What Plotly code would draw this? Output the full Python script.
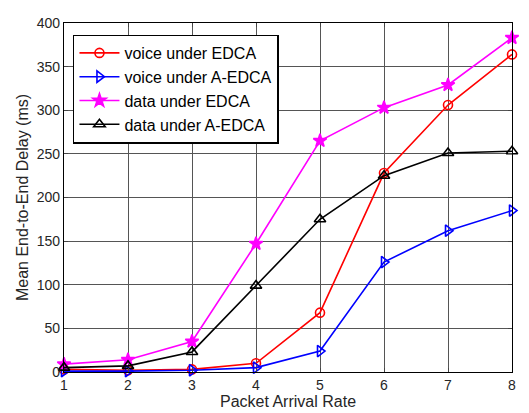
import plotly.graph_objects as go

x = [1, 2, 3, 4, 5, 6, 7, 8]
voice_edca = [3, 2, 3, 10, 68, 228, 306, 364]
voice_aedca = [1, 1, 2, 5, 24, 126, 162, 185]
data_edca = [9, 14, 35, 147, 265, 303, 329, 383]
data_aedca = [5, 7, 23, 99, 175, 225, 251, 253]

names = ["voice under EDCA", "voice under A-EDCA", "data under EDCA", "data under A-EDCA"]
series = [voice_edca, voice_aedca, data_edca, data_aedca]
colors = ["#ff0000", "#0000ff", "#ff00ff", "#000000"]
symbols = ["circle-open", "triangle-right-open", "star", "triangle-up-open"]
sizes = [9, 10, 10, 10]

fig = go.Figure()
for n, s, c, sym, sz in zip(names, series, colors, symbols, sizes):
    fig.add_trace(go.Scatter(
        x=x, y=s, name=n, mode="lines+markers",
        line=dict(color=c, width=1.6),
        marker=dict(symbol=sym, size=sz, color=c, line=dict(color=c, width=1.6)),
        cliponaxis=False,
    ))

# page body has an 8px margin, so the figure is sized to the visible area
fig.update_layout(
    width=521, height=405,
    margin=dict(l=56, r=17, t=7, b=40),
    paper_bgcolor="white", plot_bgcolor="white",
    font=dict(family="Arial, Liberation Sans", size=13, color="#262626"),
    showlegend=True,
    legend=dict(
        x=0.02, y=0.967, xanchor="left", yanchor="top",
        bgcolor="white", bordercolor="black", borderwidth=1.5,
        font=dict(size=16, color="black"),
        tracegroupgap=0, itemwidth=40,
    ),
    xaxis=dict(
        range=[1, 8], tickvals=x, ticks="inside", ticklen=4,
        showgrid=True, gridcolor="#555555", gridwidth=1,
        showline=True, linecolor="black", linewidth=1.2, mirror="ticks",
        zeroline=False, ticklabeloverflow="allow",
        title=dict(text="Packet Arrival Rate", font=dict(size=16, color="#262626"), standoff=2),
        tickfont=dict(size=14, color="#262626"),
    ),
    yaxis=dict(
        range=[0, 400], tickvals=[0, 50, 100, 150, 200, 250, 300, 350, 400],
        ticks="inside", ticklen=4,
        showgrid=True, gridcolor="#555555", gridwidth=1,
        showline=True, linecolor="black", linewidth=1.2, mirror="ticks",
        zeroline=False, ticklabeloverflow="allow",
        title=dict(text="Mean End-to-End Delay (ms)", font=dict(size=16, color="#262626"), standoff=4),
        tickfont=dict(size=14, color="#262626"),
    ),
)

fig.write_html("out.html")
